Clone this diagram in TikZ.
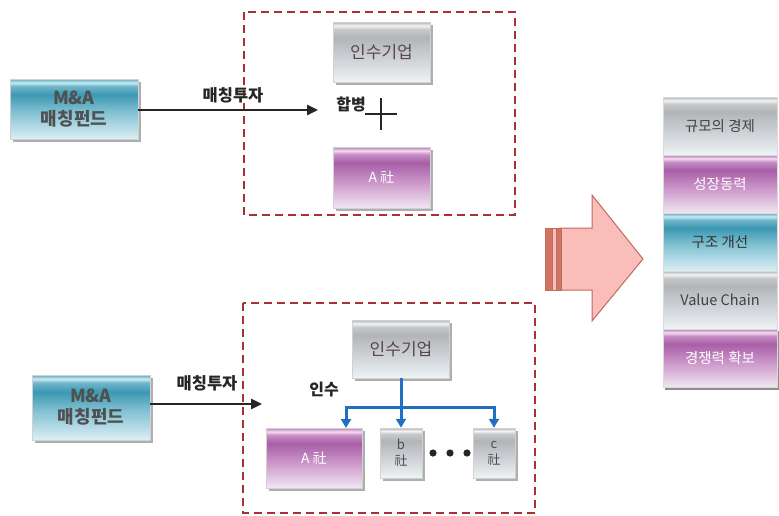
\documentclass[tikz,border=0pt]{standalone}
\usepackage{fontspec}
\setmainfont{Noto Sans CJK KR}
\usetikzlibrary{arrows.meta,shadows,calc}
\definecolor{dred}{HTML}{A83232}
\definecolor{gA}{HTML}{EEF3F6}
\definecolor{gB}{HTML}{CDD1D5}
\definecolor{gC}{HTML}{B2B5B8}
\definecolor{gD}{HTML}{C6C8CA}
\definecolor{gE}{HTML}{F4F4F4}
\definecolor{gF}{HTML}{B0B0B0}
\definecolor{pA}{HTML}{F2E6F2}
\definecolor{pB}{HTML}{C890C6}
\definecolor{pC}{HTML}{A85FA6}
\definecolor{pD}{HTML}{C68EC4}
\definecolor{pE}{HTML}{F6DDF2}
\definecolor{pF}{HTML}{B878B6}
\definecolor{tA}{HTML}{DCEFF5}
\definecolor{tB}{HTML}{80C0D2}
\definecolor{tC}{HTML}{3C98B2}
\definecolor{tD}{HTML}{70B6CA}
\definecolor{tE}{HTML}{CCEAF2}
\definecolor{tF}{HTML}{5AAAC2}
\definecolor{gtext}{HTML}{5A4848}
\definecolor{ftext}{HTML}{505050}
\definecolor{bluec}{HTML}{1F6FC2}
\definecolor{arrfill}{HTML}{F9BDBA}
\definecolor{arrdraw}{HTML}{C26A5C}
\definecolor{arrdark}{HTML}{D27464}
\pgfdeclareverticalshading{grayglass}{100bp}{color(0bp)=(gA); color(25bp)=(gA); color(45bp)=(gB); color(62bp)=(gC); color(69bp)=(gD); color(72bp)=(gE); color(75bp)=(gF); color(100bp)=(gF)}
\pgfdeclareverticalshading{purpleglass}{100bp}{color(0bp)=(pA); color(25bp)=(pA); color(48bp)=(pB); color(62bp)=(pC); color(69bp)=(pD); color(72bp)=(pE); color(75bp)=(pF); color(100bp)=(pF)}
\pgfdeclareverticalshading{tealglass}{100bp}{color(0bp)=(tA); color(25bp)=(tA); color(48bp)=(tB); color(62bp)=(tC); color(69bp)=(tD); color(72bp)=(tE); color(75bp)=(tF); color(100bp)=(tF)}
\tikzset{
  box/.style={draw=black!18, line width=0.5pt, inner sep=0pt, align=center,
    drop shadow={shadow xshift=2.5pt, shadow yshift=-2.5pt, fill=black!45, opacity=.7}},
  graybox/.style={box, shading=grayglass, text=gtext},
  purplebox/.style={box, shading=purpleglass, text=white},
  tealbox/.style={box, shading=tealglass, text=ftext},
  stackg/.style={draw=black!15, line width=0.4pt, shading=grayglass, text=black!75, minimum width=114pt, minimum height=58pt, font=\fontsize{14.5}{16}\selectfont},
  stackp/.style={draw=black!15, line width=0.4pt, shading=purpleglass, text=white, minimum width=114pt, minimum height=58pt, font=\fontsize{14.5}{16}\selectfont},
  stackt/.style={draw=black!15, line width=0.4pt, shading=tealglass, text=black!80, minimum width=114pt, minimum height=58pt, font=\fontsize{14.5}{16}\selectfont},
  dashbox/.style={draw=dred, line width=2pt, dash pattern=on 8pt off 5pt},
  blackarr/.style={draw=black!85, line width=2.5pt, -{Triangle[length=11pt,width=10pt]}},
  bluearr/.style={draw=bluec, line width=3pt, -{Triangle[length=9pt,width=10pt]}},
  blueline/.style={draw=bluec, line width=3pt},
  lbl/.style={font=\bfseries\fontsize{16.5}{18}\selectfont, text=black!85, inner sep=0pt},
}
\begin{document}
\begin{tikzpicture}[x=1pt,y=-1pt]
\useasboundingbox (0,0) rectangle (779,515);
% dashed frames
\draw[dashbox] (244,12) rectangle (515,215);
\draw[dashbox] (243,303) rectangle (535,513);
% top group
\node[tealbox, minimum width=128pt, minimum height=60pt, font=\bfseries\fontsize{18}{21}\selectfont] (fund1) at (74,109) {M\&A\\매칭펀드};
\coordinate (t1) at (318,110);
\draw[blackarr] (fund1.east |- t1) -- (t1);
\node[lbl] (inv1) at (233,95) {매칭투자};
\node[graybox, minimum width=97pt, minimum height=60pt, font=\fontsize{17}{19}\selectfont] (acq1) at (381.5,52) {인수기업};
\node[lbl, font=\bfseries\fontsize{16}{18}\selectfont] (merge) at (351,104) {합병};
\node[inner sep=0pt, minimum size=32pt] (plus) at (381,114) {};
\draw[line width=2.5pt, black!85] (plus.west) -- (plus.east) (plus.north) -- (plus.south);
\node[purplebox, minimum width=97pt, minimum height=61pt, font=\fontsize{14}{16}\selectfont] (A1) at (381.5,177.5) {A 社};
% bottom group
\node[tealbox, minimum width=118pt, minimum height=65pt, font=\bfseries\fontsize{18}{21}\selectfont] (fund2) at (91,407.5) {M\&A\\매칭펀드};
\coordinate (t2) at (262,404);
\draw[blackarr] (fund2.east |- t2) -- (t2);
\node[lbl] (inv2) at (207,383) {매칭투자};
\node[graybox, minimum width=97pt, minimum height=58pt, font=\fontsize{17}{19}\selectfont] (acq2) at (401,349) {인수기업};
\node[lbl, font=\bfseries\fontsize{16}{18}\selectfont] (take) at (324,390) {인수};
\node[purplebox, minimum width=96pt, minimum height=60pt, font=\fontsize{14}{16}\selectfont] (A2) at (314,458) {A 社};
\node[graybox, minimum width=42pt, minimum height=50pt, font=\fontsize{13}{16}\selectfont, text=black!70] (b) at (401,453) {b\\社};
\node[graybox, minimum width=42pt, minimum height=50pt, font=\fontsize{13}{16}\selectfont, text=black!70] (c) at (494,453) {c\\社};
\foreach \xx in {433,450,467} \fill[black!85] (\xx,453) circle (3.6);
\coordinate (j) at (401,407);
\coordinate (tA) at (346,428);
\draw[blueline] (acq2.south) -- (j);
\draw[bluearr] (j) -| (tA);
\draw[bluearr] (j) -- (b.north);
\draw[bluearr] (j) -| (c.north);
% big arrow
\filldraw[fill=arrfill, draw=arrdraw, line width=1pt, line join=miter]
  (560,228) -- (592,228) -- (592,195) -- (643,259) -- (592,321) -- (592,290) -- (560,290) -- cycle;
\filldraw[fill=arrdark, draw=arrdraw, line width=0.8pt] (545,228) rectangle (552,290);
\filldraw[fill=arrfill, draw=arrdraw, line width=0.6pt] (552,228) rectangle (556,290);
\filldraw[fill=arrdark, draw=arrdraw, line width=0.8pt] (556,228) rectangle (561,290);
% right stack
\fill[black!45] (665,331) rectangle (779,390);
\node[stackg] (s1) at (720,126) {규모의 경제};
\node[stackp] (s2) at (720,184) {성장동력};
\node[stackt] (s3) at (720,242) {구조 개선};
\node[stackg] (s4) at (720,300) {Value Chain};
\node[stackp] (s5) at (720,358) {경쟁력 확보};
\end{tikzpicture}
\end{document}
